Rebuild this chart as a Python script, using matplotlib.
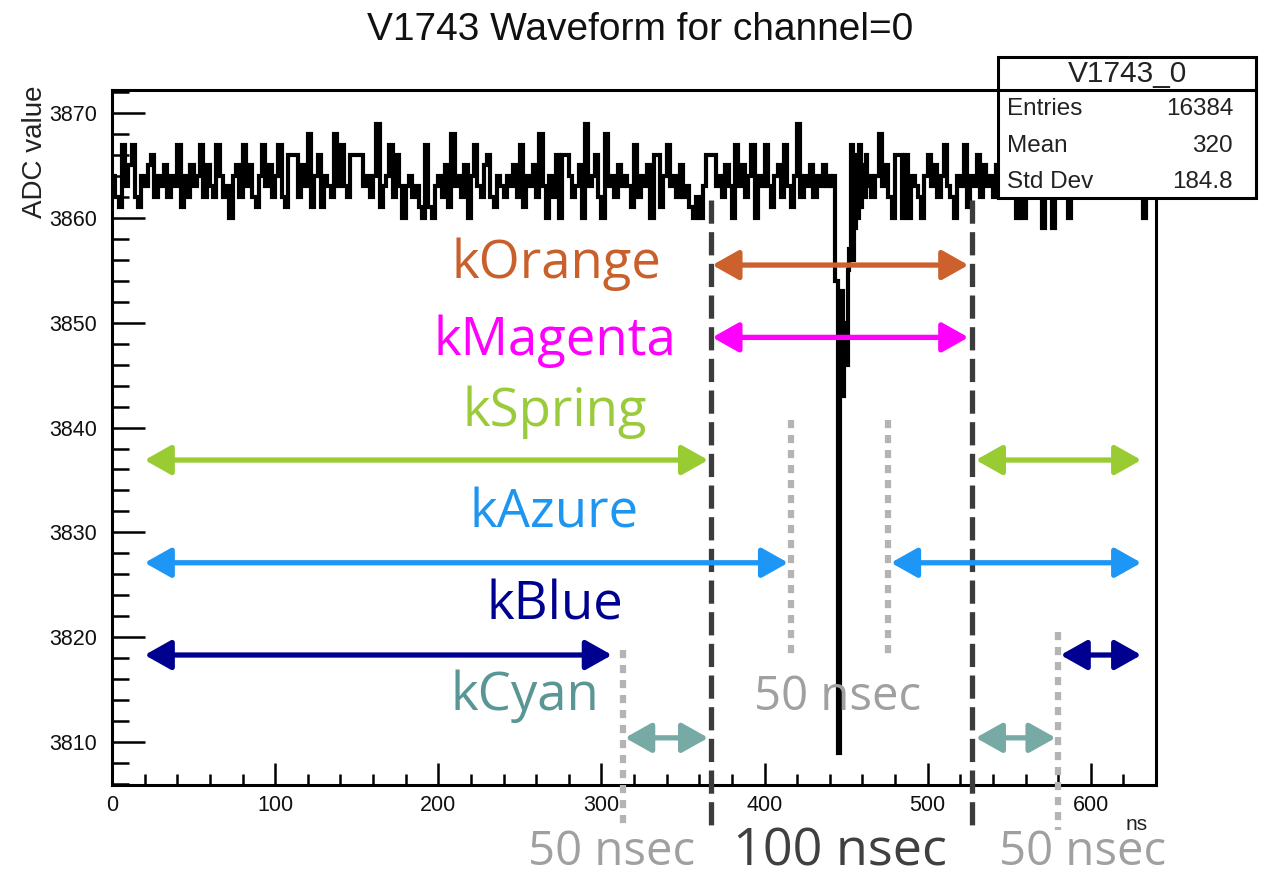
import numpy as np
import matplotlib
matplotlib.use('Agg')
import matplotlib.pyplot as plt
from matplotlib.patches import Rectangle

plt.rcParams['font.family'] = ['Liberation Sans', 'DejaVu Sans']

# waveform, ADC counts. 2 ns bins before/after the pulse, 1 ns bins around it
adc_pre = [
    3864, 3862, 3861, 3867, 3863, 3865, 3867, 3862, 3861, 3864,
    3863, 3865, 3866, 3862, 3864, 3863, 3865, 3862, 3864, 3863,
    3867, 3861, 3864, 3862, 3865, 3863, 3864, 3867, 3862, 3865,
    3863, 3862, 3867, 3864, 3862, 3863, 3860, 3864, 3865, 3862,
    3867, 3863, 3865, 3862, 3861, 3864, 3867, 3863, 3865, 3862,
    3864, 3867, 3862, 3861, 3866, 3866, 3866, 3862, 3865, 3863,
    3868, 3861, 3864, 3866, 3861, 3864, 3863, 3862, 3868, 3863,
    3867, 3863, 3862, 3866, 3866, 3866, 3866, 3863, 3864, 3862,
    3864, 3869, 3861, 3863, 3864, 3867, 3862, 3866, 3863, 3860,
    3863, 3864, 3862, 3863, 3861, 3860, 3867, 3861, 3860, 3863,
    3864, 3862, 3865, 3861, 3868, 3863, 3864, 3862, 3865, 3860,
    3864, 3867, 3863, 3862, 3865, 3866, 3862, 3861, 3864, 3863,
    3862, 3864, 3863, 3865, 3862, 3867, 3861, 3864, 3863, 3865,
    3862, 3868, 3863, 3860, 3864, 3862, 3866, 3860, 3866, 3866,
    3864, 3862, 3863, 3865, 3860, 3869, 3863, 3864, 3866, 3862,
    3860, 3868, 3863, 3864, 3862, 3865, 3863, 3864, 3863, 3861,
    3867, 3862, 3864, 3863, 3865, 3860, 3866, 3866, 3861, 3864,
    3867, 3863, 3864, 3862, 3865, 3862, 3863, 3861, 3860, 3862,
    3860, 3863, 3866, 3866, 3866, 3863, 3864, 3862, 3865, 3863,
    3860, 3867, 3863, 3865, 3862, 3864, 3867, 3860, 3864, 3863,
    3867, 3863, 3861, 3864, 3865, 3862, 3867, 3863, 3861, 3864,
    3869, 3862, 3864, 3863, 3865, 3862, 3864, 3863, 3865, 3863,
]
adc_pulse = [
    3864, 3863, 3864, 3854, 3854, 3809, 3845, 3853, 3843, 3850,
    3846, 3855, 3857, 3867, 3856, 3859, 3866, 3860, 3867, 3861,
    3865, 3862, 3866, 3863, 3864, 3862,
]
adc_post = [
    3862, 3864, 3868, 3863, 3865, 3862, 3860, 3866, 3866, 3860,
    3866, 3860, 3864, 3863, 3862, 3860, 3864, 3866, 3863, 3865,
    3862, 3864, 3867, 3863, 3862, 3860, 3864, 3863, 3867, 3861,
    3864, 3863, 3866, 3862, 3865, 3863, 3864, 3862, 3865, 3863,
    3864, 3862, 3865, 3863, 3860, 3864, 3860, 3863, 3865, 3862,
    3864, 3862, 3859, 3865, 3863, 3859, 3864, 3862, 3865, 3863,
    3860, 3864, 3863, 3865, 3862, 3864, 3863, 3865, 3862, 3864,
    3863, 3865, 3862, 3864, 3866, 3863, 3865, 3862, 3864, 3863,
    3865, 3862, 3864, 3860, 3863, 3865, 3862,
]
edges = np.concatenate([np.arange(0, 440, 2), np.arange(440, 466, 1), np.arange(466, 641, 2)])
adc = adc_pre + adc_pulse + adc_post

stats_names = ['Entries', 'Mean', 'Std Dev']
stats_values = ['16384', '320', '184.8']

# annotation overlay (ns, ADC)
window_lines = [367, 527]
outer_gap_lines = [313, 580]
inner_gap_lines = [416, 476]
arrow_names = ['kOrange', 'kMagenta', 'kSpring', 'kAzure', 'kBlue', 'kCyan']
arrow_colors = ['#cc612d', '#ff00ff', '#99cc33', '#1e96f5', '#000090', '#78aaa5']
text_colors = ['#c9602c', '#ff00ff', '#9acb3a', '#1e96f0', '#000090', '#5a9696']
arrow_y = [3855.5, 3848.6, 3836.9, 3827.1, 3818.3, 3810.4]
arrow_spans = [
    [(368, 525)],
    [(368, 525)],
    [(20, 365.5), (529.5, 631)],
    [(20, 414.5), (477.5, 631)],
    [(20, 306.5), (581.5, 631)],
    [(314.5, 365.5), (529.5, 578.5)],
]

W, H = 1275, 876
fig = plt.figure(figsize=(W / 100, H / 100), dpi=100)
ax = fig.add_axes([112 / W, 1 - 785 / H, (1156 - 112) / W, (785 - 90) / H])

ax.stairs(adc, edges, baseline=None, color='black', lw=3.0, zorder=2)
ax.set_xlim(0, 640)
ax.set_ylim(3805.9, 3872.2)

ax.set_xticks(np.arange(0, 641, 100))
ax.set_xticks(np.arange(0, 641, 20), minor=True)
ax.set_yticks(np.arange(3810, 3871, 10))
ax.set_yticks(np.arange(3806, 3873, 2), minor=True)
ax.tick_params(axis='both', which='major', direction='in', width=1.8, labelsize=15.5, labelcolor='#111111')
ax.tick_params(axis='both', which='minor', direction='in', width=1.8)
ax.tick_params(axis='y', which='major', length=24, pad=11)
ax.tick_params(axis='y', which='minor', length=12)
ax.tick_params(axis='x', which='major', length=16, pad=7)
ax.tick_params(axis='x', which='minor', length=8)
for s in ax.spines.values():
    s.set_linewidth(2.2)

fig.text(640 / W, 1 - 30 / H, 'V1743 Waveform for channel=0', ha='center', va='center', fontsize=28, color='#111111')
fig.text(35 / W, 1 - 86 / H, 'ADC value', rotation=90, ha='center', va='top', fontsize=20, color='#222222')
fig.text(1148 / W, 1 - 825 / H, 'ns', ha='right', va='center', fontsize=15, color='#222222')

# stat box
fig.patches.append(Rectangle((998 / W, 1 - 198 / H), 258 / W, 141 / H, transform=fig.transFigure,
                             facecolor='white', edgecolor='black', lw=2.2, zorder=5))
fig.lines.append(plt.Line2D([998 / W, 1256 / W], [1 - 90 / H, 1 - 90 / H], transform=fig.transFigure,
                            color='black', lw=2.2, zorder=6))
fig.text(1127 / W, 1 - 74 / H, 'V1743_0', ha='center', va='center', fontsize=21.5, zorder=7, color='#222222')
for i, (n, v) in enumerate(zip(stats_names, stats_values)):
    yy = 1 - (109 + 36.5 * i) / H
    fig.text(1007 / W, yy, n, ha='left', va='center', fontsize=17.5, zorder=7, color='#222222')
    fig.text(1233 / W, yy, v, ha='right', va='center', fontsize=17.5, zorder=7, color='#222222')

# dashed / dotted guide lines
for x in window_lines:
    ax.plot([x, x], [3861.7, 3801.6], color='#3c3c3c', lw=3.8, dashes=(4.4, 1.6), clip_on=False, zorder=4)
for x, top in zip(outer_gap_lines, [3818.8, 3820.5]):
    ax.plot([x, x], [top, 3801.6], color='#b4b4b4', lw=4.5, dashes=(1.3, 1.1), clip_on=False, zorder=3)
for x in inner_gap_lines:
    ax.plot([x, x], [3840.7, 3818.3], color='#b4b4b4', lw=4.5, dashes=(1.3, 1.1), zorder=3)

# arrows
for y, spans, c in zip(arrow_y, arrow_spans, arrow_colors):
    for x0, x1 in spans:
        ax.annotate('', xy=(x1, y), xytext=(x0, y),
                    arrowprops=dict(arrowstyle='<|-|>,head_length=0.8,head_width=0.45', color=c, lw=3.8,
                                    mutation_scale=20, shrinkA=0, shrinkB=0), zorder=4)

label_px = [(556, 264), (555, 341), (555, 412), (554, 514), (555, 606), (525, 696)]
for name, c, (px, py) in zip(arrow_names, text_colors, label_px):
    fig.text(px / W, 1 - py / H, name, ha='center', va='center', color=c, fontsize=38, family='Open Sans')

fig.text(838 / W, 1 - 697 / H, '50 nsec', ha='center', va='center', color='#a0a0a0', fontsize=34, family='Open Sans')
fig.text(612 / W, 1 - 852 / H, '50 nsec', ha='center', va='center', color='#a0a0a0', fontsize=34, family='Open Sans')
fig.text(1083 / W, 1 - 852 / H, '50 nsec', ha='center', va='center', color='#a0a0a0', fontsize=34, family='Open Sans')
fig.text(840 / W, 1 - 852 / H, '100 nsec', ha='center', va='center', color='#404040', fontsize=37.5, family='Open Sans')

fig.savefig('out.png', dpi=100)
